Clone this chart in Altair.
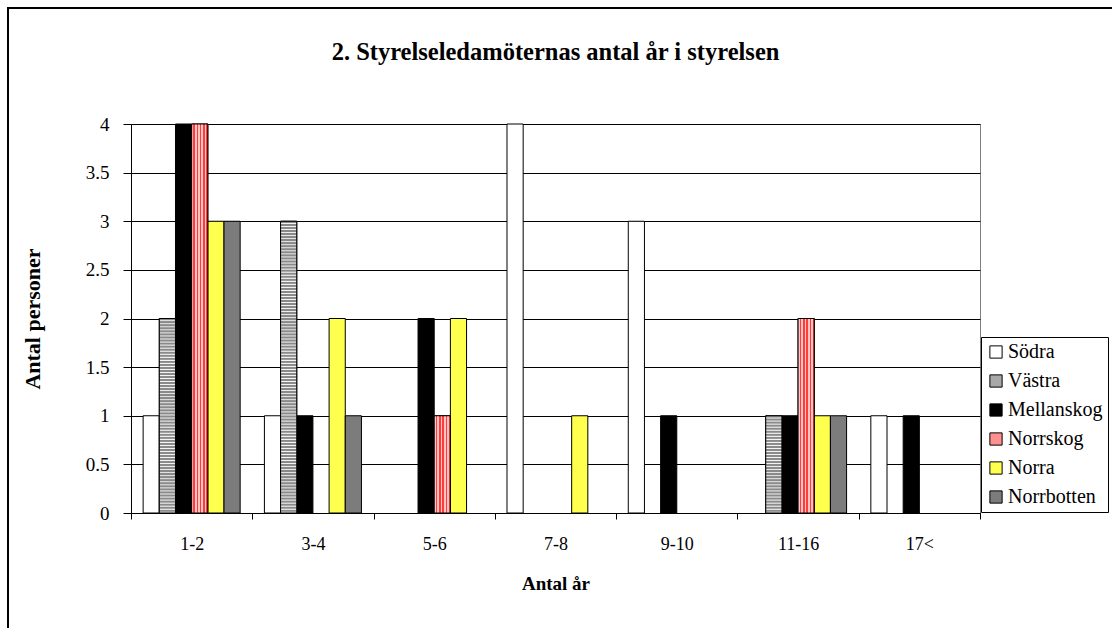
import altair as alt
import pandas as pd

# ---- data ----
categories = ["1-2", "3-4", "5-6", "7-8", "9-10", "11-16", "17<"]
series = ["Södra", "Västra", "Mellanskog", "Norrskog", "Norra", "Norrbotten"]
sodra = [1, 1, 0, 4, 3, 0, 1]
vastra = [2, 3, 0, 0, 0, 1, 0]
mellanskog = [4, 1, 2, 0, 1, 1, 1]
norrskog = [4, 0, 1, 0, 0, 2, 0]
norra = [3, 2, 2, 1, 0, 1, 0]
norrbotten = [3, 1, 0, 0, 0, 1, 0]
y_ticks = [0, 0.5, 1, 1.5, 2, 2.5, 3, 3.5, 4]
title_text = "2. Styrelseledamöternas antal år i styrelsen"

colors = ["#ffffff", "#a8a8a8", "#000000", "#ff9090", "#ffff4d", "#7c7c7c"]

values = dict(zip(series, [sodra, vastra, mellanskog, norrskog, norra, norrbotten]))
rows = [
    {"cat": c, "series": s, "value": v}
    for s in series
    for c, v in zip(categories, values[s])
]
df = pd.DataFrame(rows)

FONT = "Liberation Serif, Times New Roman, serif"
W, H = 849, 389
PAD_L, PAD_T = 131, 124

x_enc = alt.X(
    "cat:N",
    scale=alt.Scale(domain=categories, paddingInner=0, paddingOuter=0),
    axis=alt.Axis(
        title="Antal år",
        labelAngle=0,
        tickBand="extent",
        tickSize=6,
        tickColor="black",
        domainColor="black",
        labelFont=FONT,
        labelFontSize=18,
        labelColor="black",
        labelPadding=16,
        titleFont=FONT,
        titleFontSize=19,
        titleFontWeight="bold",
        titleColor="black",
        titleX=W / 2,
        titleY=70,
        titleAlign="center",
        titleBaseline="middle",
    ),
)
xoff_enc = alt.XOffset(
    "series:N",
    scale=alt.Scale(domain=series, paddingInner=0, paddingOuter=0.75),
)
y_enc = alt.Y(
    "value:Q",
    scale=alt.Scale(domain=[0, 4], nice=False),
    axis=alt.Axis(
        title="Antal personer",
        values=y_ticks,
        format="~g",
        grid=True,
        gridColor="black",
        gridWidth=1,
        tickSize=8,
        tickColor="black",
        domainColor="black",
        labelFont=FONT,
        labelFontSize=19,
        labelColor="black",
        labelPadding=14,
        titleFont=FONT,
        titleFontSize=22,
        titleFontWeight="bold",
        titleColor="black",
        titleAngle=270,
        titleX=-99,
        titleY=H / 2,
        titleAlign="center",
        titleBaseline="middle",
    ),
)

base = alt.Chart(df).transform_filter(alt.datum.value > 0).encode(
    x=x_enc, xOffset=xoff_enc, y=y_enc
)

bars = base.mark_bar(stroke="black", strokeWidth=1, opacity=1).encode(
    color=alt.Color(
        "series:N",
        scale=alt.Scale(domain=series, range=colors),
        legend=alt.Legend(
            orient="none",
            legendX=850,
            legendY=213,
            title=None,
            padding=5,
            strokeColor="black",
            fillColor="white",
            symbolType="square",
            symbolSize=150,
            symbolStrokeColor="black",
            symbolStrokeWidth=1,
            symbolOpacity=1,
            labelFont=FONT,
            labelFontSize=20,
            labelColor="black",
            labelOffset=2,
            rowPadding=9,
        ),
    )
)

# vertical red stripes for Norrskog
n_str = 5
stops = []
for i in range(n_str):
    a = i / n_str
    b = a + 0.55 / n_str
    c = (i + 1) / n_str
    stops += [
        alt.GradientStop(offset=a, color="#ffc4c4"),
        alt.GradientStop(offset=b, color="#ffc4c4"),
        alt.GradientStop(offset=b, color="#ff3c3c"),
        alt.GradientStop(offset=c, color="#ff3c3c"),
    ]
norrskog_fill = alt.LinearGradient(gradient="linear", stops=stops, x1=0, x2=1, y1=0, y2=0)
norrskog_layer = base.transform_filter(alt.datum.series == "Norrskog").mark_bar(
    color=norrskog_fill, stroke="black", strokeWidth=1
)

# horizontal grey stripes for Västra (one layer per bar height so stripe pitch stays constant)
vastra_layers = []
for v in sorted(set(x for x in vastra if x > 0)):
    n = int(round(v * 32))
    st = []
    for i in range(n):
        a = i / n
        p = 1 / n
        st += [
            alt.GradientStop(offset=a, color="#8a8a8a"),
            alt.GradientStop(offset=a + 0.45 * p, color="#8a8a8a"),
            alt.GradientStop(offset=a + 0.72 * p, color="#f4f4f4"),
            alt.GradientStop(offset=a + 0.82 * p, color="#f4f4f4"),
        ]
    st.append(alt.GradientStop(offset=1, color="#8a8a8a"))
    g = alt.LinearGradient(gradient="linear", stops=st, x1=0, x2=0, y1=0, y2=1)
    vastra_layers.append(
        base.transform_filter(
            (alt.datum.series == "Västra") & (alt.datum.value == v)
        ).mark_bar(color=g, stroke="black", strokeWidth=1)
    )

frame_df = pd.DataFrame({"k": [0]})
frame_top = alt.Chart(frame_df).mark_rule(color="black", strokeWidth=2).encode(
    x=alt.value(-123), x2=alt.value(1000), y=alt.value(-116)
)
frame_left = alt.Chart(frame_df).mark_rule(color="black", strokeWidth=2).encode(
    x=alt.value(-123), y=alt.value(-117), y2=alt.value(520)
)
title_mark = alt.Chart(frame_df).mark_text(
    text=title_text,
    font=FONT,
    fontSize=24.5,
    fontWeight="bold",
    color="black",
    align="center",
    baseline="middle",
).encode(x=alt.value(W / 2), y=alt.value(-71))

chart = (
    alt.layer(bars, norrskog_layer, *vastra_layers, frame_top, frame_left, title_mark)
    .properties(
        width=W,
        height=H,
        autosize=alt.AutoSizeParams(type="none"),
        padding={"left": PAD_L, "top": PAD_T, "right": 1112 - PAD_L - W, "bottom": 628 - PAD_T - H},
        background="white",
    )
    .configure_view(stroke="#808080", strokeWidth=1)
    .configure_legend(labelFont=FONT)
)

chart.save("out.html", embed_options={"renderer": "svg", "actions": False})
